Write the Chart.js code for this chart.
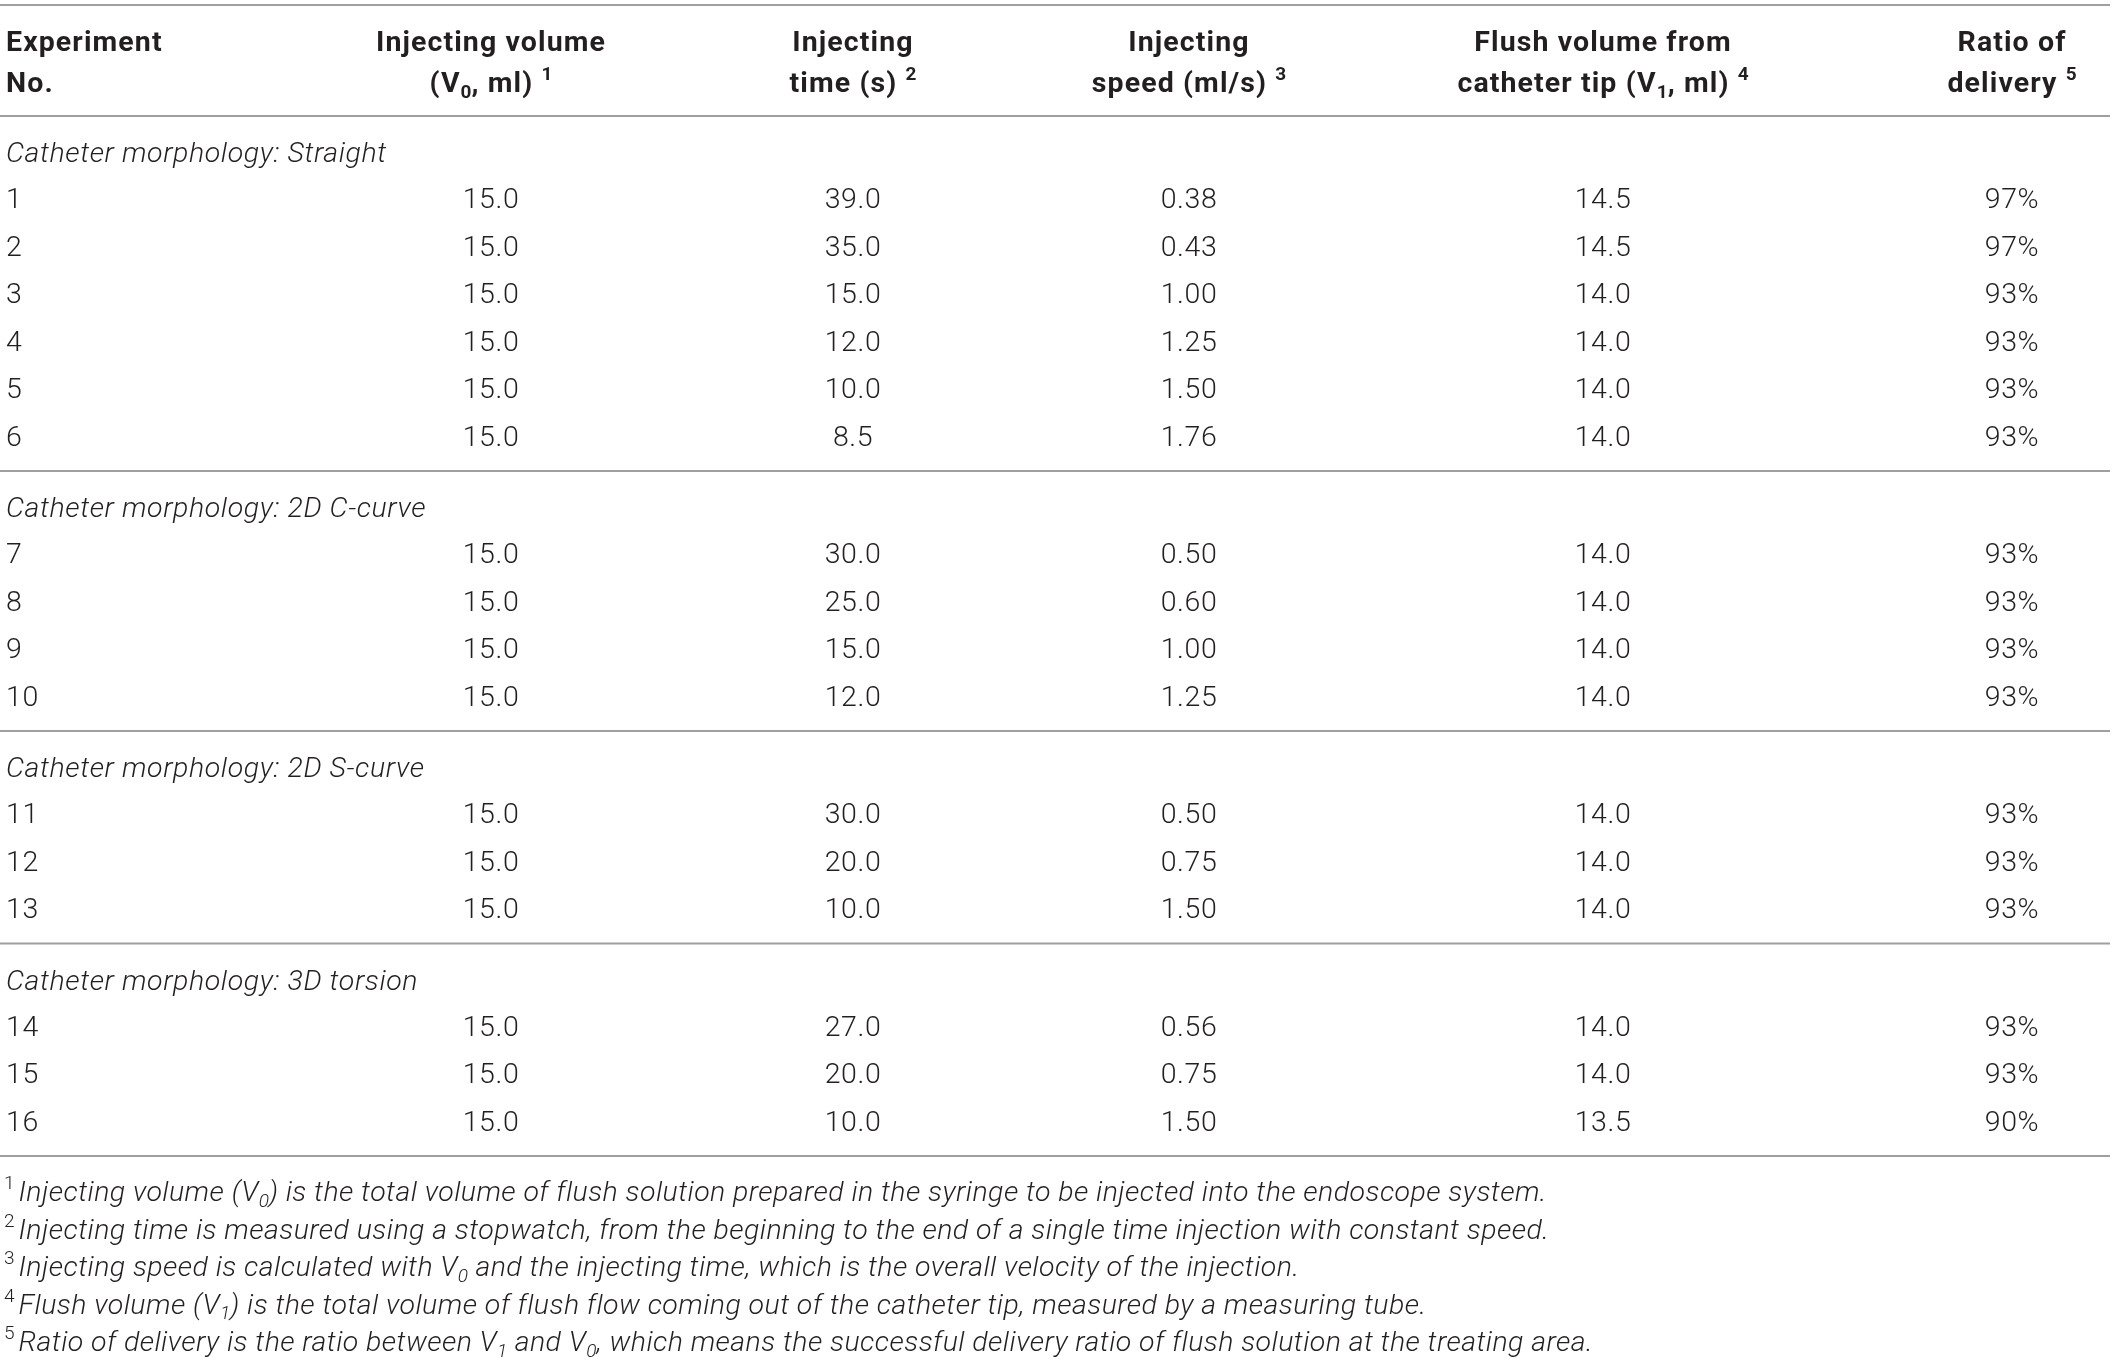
<!DOCTYPE html>
<html lang="en">
<head>
  <meta charset="UTF-8">
  <title>Flush delivery experiments</title>
  <script src="https://cdn.jsdelivr.net/npm/chart.js"></script>
  <style>
    html, body { margin: 0; padding: 0; background: #fff; }
    .wrap { width: 2117px; height: 1362px; position: relative; }
  </style>
</head>
<body>

<div class="wrap"><canvas id="tabel"></canvas></div>

<script>
  const headerLine1 = ['Experiment', 'Injecting volume', 'Injecting', 'Injecting', 'Flush volume from', 'Ratio of'];
  const headerLine2 = ['No.', '(V{_0}, ml) {^1}', 'time (s) {^2}', 'speed (ml/s) {^3}', 'catheter tip (V{_1}, ml) {^4}', 'delivery {^5}'];

  const groups = ['Straight', '2D C-curve', '2D S-curve', '3D torsion'];
  const groupSizes = [6, 4, 3, 3];

  const experimentNo = [1, 2, 3, 4, 5, 6, 7, 8, 9, 10, 11, 12, 13, 14, 15, 16];
  const injVolume = [15.0, 15.0, 15.0, 15.0, 15.0, 15.0, 15.0, 15.0, 15.0, 15.0, 15.0, 15.0, 15.0, 15.0, 15.0, 15.0];
  const injTime = [39.0, 35.0, 15.0, 12.0, 10.0, 8.5, 30.0, 25.0, 15.0, 12.0, 30.0, 20.0, 10.0, 27.0, 20.0, 10.0];
  const injSpeed = [0.38, 0.43, 1.00, 1.25, 1.50, 1.76, 0.50, 0.60, 1.00, 1.25, 0.50, 0.75, 1.50, 0.56, 0.75, 1.50];
  const flushVol = [14.5, 14.5, 14.0, 14.0, 14.0, 14.0, 14.0, 14.0, 14.0, 14.0, 14.0, 14.0, 14.0, 14.0, 14.0, 13.5];
  const ratio = [97, 97, 93, 93, 93, 93, 93, 93, 93, 93, 93, 93, 93, 93, 93, 90];

  const footnotes = [
    '{^1}Injecting volume (V{_0}) is the total volume of flush solution prepared in the syringe to be injected into the endoscope system.',
    '{^2}Injecting time is measured using a stopwatch, from the beginning to the end of a single time injection with constant speed.',
    '{^3}Injecting speed is calculated with V{_0} and the injecting time, which is the overall velocity of the injection.',
    '{^4}Flush volume (V{_1}) is the total volume of flush flow coming out of the catheter tip, measured by a measuring tube.',
    '{^5}Ratio of delivery is the ratio between V{_1} and V{_0}, which means the successful delivery ratio of flush solution at the treating area.'
  ];

  // ---- layout (pixels of the 2117 x 1362 page) ----
  const W = 2117, H = 1362;
  const colX = [6, 491, 853, 1189, 1603, 2012];
  const ruleEnd = 2110;
  const topRule = 5, headY1 = 41, headY2 = 82, headRule = 116;
  const rowStep = 47.5, ruleToGroup = 36, groupToRow = 46, rowToRule = 35.5;
  const noteStep = 37.5, ruleToNote = 35;

  const FAMILY = 'Roboto, "Helvetica Neue", Arial, sans-serif';
  const TEXT = '#231f20';
  const RULE = '#9f9f9f';
  const fonts = {
    head:  { style: 'normal', weight: 700, size: 28.5, track: 1.1 },
    body:  { style: 'normal', weight: 300, size: 28.5, track: 0.6 },
    group: { style: 'italic', weight: 300, size: 28.5, track: 0.6 },
    note:  { style: 'italic', weight: 300, size: 28.5, track: 0.44 }
  };

  // row positions
  const rowY = [], groupY = [], rules = [topRule, headRule];
  let y = headRule;
  groupSizes.forEach(n => {
    const g = y + ruleToGroup;
    groupY.push(g);
    for (let i = 0; i < n; i++) rowY.push(g + groupToRow + i * rowStep);
    y = rowY[rowY.length - 1] + rowToRule;
    rules.push(y);
  });
  const noteY = footnotes.map((_, i) => y + ruleToNote + i * noteStep);

  const columns = [
    experimentNo.map(v => String(v)),
    injVolume.map(v => v.toFixed(1)),
    injTime.map(v => v.toFixed(1)),
    injSpeed.map(v => v.toFixed(2)),
    flushVol.map(v => v.toFixed(1)),
    ratio.map(v => v + '%')
  ];

  // ---- datasets ----
  const datasets = [];

  rules.forEach(ry => datasets.push({
    type: 'line',
    data: [{ x: 0, y: ry }, { x: ruleEnd, y: ry }],
    borderColor: RULE,
    borderWidth: 2,
    pointRadius: 0,
    clip: false
  }));

  function textSet(points, texts, font, align) {
    return { type: 'scatter', data: points, texts: texts, font: font, align: align, pointRadius: 0, clip: false };
  }

  colX.forEach((cx, c) => {
    const al = c === 0 ? 'left' : 'center';
    datasets.push(textSet([{ x: cx, y: headY1 }, { x: cx, y: headY2 }], [headerLine1[c], headerLine2[c]], 'head', al));
    datasets.push(textSet(rowY.map(ry => ({ x: cx, y: ry })), columns[c], 'body', al));
  });

  datasets.push(textSet(groupY.map(gy => ({ x: colX[0], y: gy })), groups.map(g => 'Catheter morphology: ' + g), 'group', 'left'));
  datasets.push(textSet(noteY.map(ny => ({ x: 4, y: ny })), footnotes, 'note', 'left'));

  // ---- rich text with sub/superscripts ----
  function parts(str) {
    const out = [];
    const re = /\{([_^])([^}]*)\}/g;
    let last = 0, m;
    while ((m = re.exec(str)) !== null) {
      if (m.index > last) out.push({ t: str.slice(last, m.index), k: '' });
      out.push({ t: m[2], k: m[1] });
      last = re.lastIndex;
    }
    if (last < str.length) out.push({ t: str.slice(last), k: '' });
    return out;
  }

  function fontStr(f, small, upright) {
    const size = small ? Math.round(f.size * 0.68) : f.size;
    return (upright ? 'normal' : f.style) + ' ' + f.weight + ' ' + size + 'px ' + FAMILY;
  }

  function drawRich(ctx, str, x, y, f, align) {
    const segs = parts(str);
    let total = 0;
    segs.forEach((s, i) => {
      // a leading superscript is a footnote mark: upright, with a little gap after it
      s.up = i === 0 && s.k === '^';
      ctx.font = fontStr(f, s.k !== '', s.up);
      ctx.letterSpacing = s.k ? '0px' : f.track + 'px';
      s.w = ctx.measureText(s.t).width + (s.up ? 4 : 0);
      total += s.w;
    });
    let cx = align === 'center' ? x - total / 2 : x;
    const base = y + f.size * 0.36;
    segs.forEach(s => {
      ctx.font = fontStr(f, s.k !== '', s.up);
      ctx.letterSpacing = s.k ? '0px' : f.track + 'px';
      let dy = 0;
      if (s.k === '^') dy = -f.size * 0.42;
      if (s.k === '_') dy = f.size * 0.2;
      ctx.fillText(s.t, cx, base + dy);
      cx += s.w;
    });
    ctx.letterSpacing = '0px';
  }

  const tablePlugin = {
    id: 'tableText',
    afterDatasetsDraw(chart) {
      const ctx = chart.ctx;
      ctx.save();
      ctx.fillStyle = TEXT;
      ctx.textAlign = 'left';
      ctx.textBaseline = 'alphabetic';
      chart.data.datasets.forEach((ds, i) => {
        if (!ds.texts) return;
        const meta = chart.getDatasetMeta(i);
        meta.data.forEach((pt, j) => drawRich(ctx, ds.texts[j], pt.x, pt.y, fonts[ds.font], ds.align));
      });
      ctx.restore();
    }
  };

  new Chart(document.getElementById('tabel'), {
    type: 'scatter',
    data: { datasets: datasets },
    options: {
      responsive: true,
      maintainAspectRatio: false,
      animation: false,
      events: [],
      layout: { padding: 0 },
      plugins: { legend: { display: false }, tooltip: { enabled: false } },
      scales: {
        x: { type: 'linear', display: false, min: 0, max: W },
        y: { type: 'linear', display: false, min: 0, max: H, reverse: true }
      }
    },
    plugins: [tablePlugin]
  });
</script>

</body>
</html>
